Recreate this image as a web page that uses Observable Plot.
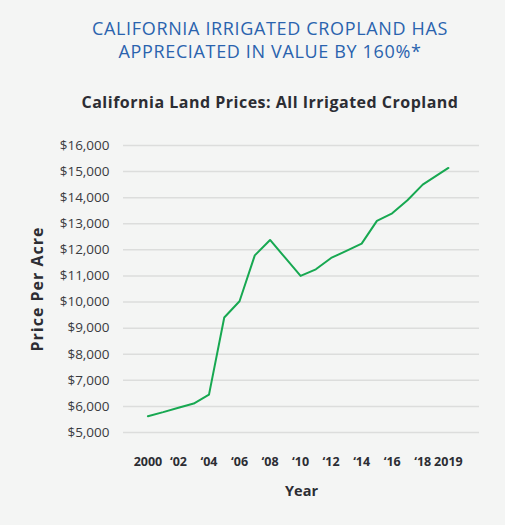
<!DOCTYPE html>
<html>
<head>
<meta charset="utf-8">
<script src="https://cdn.jsdelivr.net/npm/d3@7"></script>
<script src="https://cdn.jsdelivr.net/npm/@observablehq/plot@0.6"></script>
<style>
  html, body { margin: 0; padding: 0; background: #f4f5f4; }
  body { width: 505px; height: 525px; overflow: hidden; font-family: "Open Sans", sans-serif; }
  .title { position: absolute; left: 0; top: 17px; width: 540px; text-align: center; color: #2a63ae; font-size: 18px; line-height: 22.5px; letter-spacing: 0.65px; }
  .subtitle { position: absolute; left: 0; top: 91px; width: 540px; text-align: center; color: #2c2d33; font-size: 16px; font-weight: 700; letter-spacing: 0.5px; }
  #chart { position: absolute; left: 0; top: 125px; }
</style>
</head>
<body>
<div class="title">CALIFORNIA IRRIGATED CROPLAND HAS<br>APPRECIATED IN VALUE BY 160%*</div>
<div class="subtitle">California Land Prices: All Irrigated Cropland</div>
<div id="chart"></div>
<script>
const years  = [2000, 2001, 2002, 2003, 2004, 2005, 2006, 2007, 2008, 2009, 2010, 2011, 2012, 2013, 2014, 2015, 2016, 2017, 2018, 2019];
const prices = [5625, 5780, 5950, 6110, 6450, 9410, 10030, 11790, 12380, 11690, 11000, 11255, 11690, 11960, 12240, 13110, 13400, 13900, 14500, 15140];
const xTicks = [2000, 2002, 2004, 2006, 2008, 2010, 2012, 2014, 2016, 2018, 2019];
const xTickLabels = ["2000", "\u201802", "\u201804", "\u201806", "\u201808", "\u201810", "\u201812", "\u201814", "\u201816", "\u201818", "2019"];
const yTicks = [5000, 6000, 7000, 8000, 9000, 10000, 11000, 12000, 13000, 14000, 15000, 16000];

const data = years.map((year, i) => ({year, price: prices[i]}));
const fmtY = d => "$" + d3.format(",")(d);
const fmtX = d => xTickLabels[xTicks.indexOf(d)];
// the source chart spaces its last year (2019) wider than the others
const lastGap = 1.684;
const xWarp = d => d <= 2018 ? d : 2018 + (d - 2018) * lastGap;

const chart = Plot.plot({
  width: 505,
  height: 400,
  marginTop: 20,
  marginBottom: 93,
  marginLeft: 123,
  marginRight: 26,
  style: {background: "transparent", fontFamily: "Open Sans, sans-serif", color: "#2c2d33"},
  x: {domain: [1998.4, 2021.72], transform: xWarp},
  y: {domain: [5000, 16000]},
  marks: [
    Plot.gridY(yTicks, {stroke: "#dcdddc", strokeOpacity: 1, strokeWidth: 1.5}),
    Plot.axisY(yTicks, {tickSize: 0, tickPadding: 14, tickFormat: fmtY, fontSize: 13.5, fill: "#3a3b40",
      label: "Price Per Acre", labelAnchor: "center", labelArrow: "none", labelOffset: 92}),
    Plot.axisX(xTicks, {tickSize: 0, tickPadding: 25, tickFormat: fmtX, fontSize: 12.5, fontWeight: 700, fill: "#2c2d33",
      label: "Year", labelAnchor: "center", labelArrow: "none", labelOffset: 63}),
    Plot.line(data, {x: "year", y: "price", stroke: "#17a851", strokeWidth: 2})
  ]
});
document.getElementById("chart").append(chart);
chart.querySelectorAll('[aria-label="y-axis label"] text').forEach(t => {
  t.setAttribute("font-weight", "700");
  t.setAttribute("font-size", "16");
  t.setAttribute("letter-spacing", "1");
  t.setAttribute("fill", "#2c2d33");
});
chart.querySelectorAll('[aria-label="x-axis label"] text').forEach(t => {
  t.setAttribute("font-weight", "700");
  t.setAttribute("font-size", "14.5");
  t.setAttribute("fill", "#2c2d33");
});
</script>
</body>
</html>
